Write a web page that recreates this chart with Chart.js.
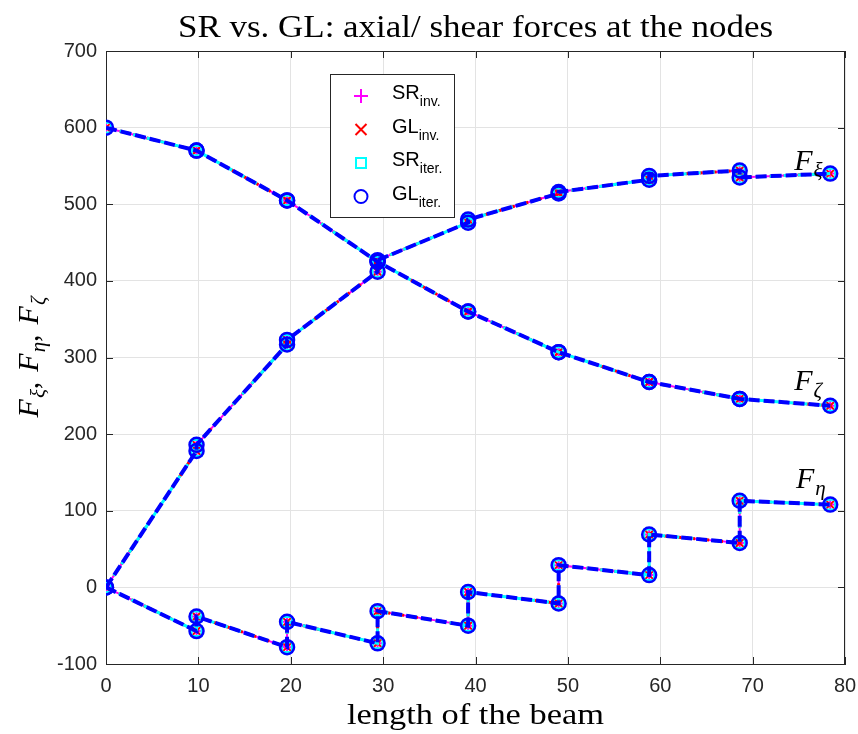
<!DOCTYPE html>
<html><head><meta charset="utf-8">
<script src="https://cdn.jsdelivr.net/npm/chart.js@4/dist/chart.umd.min.js"></script>
<style>html,body{margin:0;padding:0;background:#fff}#wrap{width:858px;height:734px;position:relative}</style>
</head><body><div id="wrap"><canvas id="c" width="858" height="734"></canvas></div>
<script>
// ---- data ----
const nodeX = [0, 9.8, 19.6, 29.4, 39.2, 49, 58.8, 68.6, 78.4];
// element i spans nodeX[i] -> nodeX[i+1]; start/end values of each element
const fXiStart   = [0, 186, 323, 427, 480, 516, 537, 535];
const fXiEnd     = [178, 317, 412, 476, 514, 532, 544, 540];
const fZetaStart = [600, 570, 505, 425, 360, 307, 268, 246];
const fZetaEnd   = [570, 505, 425, 360, 307, 268, 246, 237];
const fEtaStart  = [0, -38, -45, -31, -6, 29, 69, 113];
const fEtaEnd    = [-57, -78, -73, -50, -21, 16, 58, 108];
const seriesNames = ['SR', 'GL', 'SR', 'GL'];
const seriesSubs  = ['inv.', 'inv.', 'iter.', 'iter.'];
const xTickValues = [0, 10, 20, 30, 40, 50, 60, 70, 80];
const yTickValues = [-100, 0, 100, 200, 300, 400, 500, 600, 700];
const titleText = 'SR vs. GL: axial/ shear forces at the nodes';
const xTitleText = 'length of the beam';
const curveLabels = [
  {sub: 'ξ', x: 74.5, y: 545},
  {sub: 'ζ', x: 74.5, y: 258},
  {sub: 'η', x: 74.7, y: 130}
];

function curvePoints(starts, ends) {
  const pts = [];
  for (let i = 0; i < starts.length; i++) {
    pts.push({x: nodeX[i], y: starts[i]});
    pts.push({x: nodeX[i + 1], y: ends[i]});
  }
  return pts;
}
const allPoints = [
  ...curvePoints(fXiStart, fXiEnd), {x: nodeX[8], y: null},
  ...curvePoints(fZetaStart, fZetaEnd), {x: nodeX[8], y: null},
  ...curvePoints(fEtaStart, fEtaEnd)
];

const styles = [
  {color: '#ff00ff', width: 2, dash: [], pointStyle: 'cross', r: 6, pbw: 2, order: 4},
  {color: '#ff0000', width: 3, dash: [3, 4], pointStyle: 'crossRot', r: 6, pbw: 2, order: 3},
  {color: '#00ffff', width: 3, dash: [8, 6], pointStyle: 'rect', r: 7, pbw: 2, order: 2},
  {color: '#0000ff', width: 4, dash: [11, 4], pointStyle: 'circle', r: 7, pbw: 2.5, order: 1}
];

const datasets = styles.map((s, i) => ({
  label: seriesNames[i] + seriesSubs[i],
  data: allPoints,
  borderColor: s.color,
  borderWidth: s.width,
  borderDash: s.dash,
  pointStyle: s.pointStyle,
  pointRadius: s.r,
  pointBorderWidth: s.pbw,
  pointBorderColor: s.color,
  pointBackgroundColor: 'rgba(0,0,0,0)',
  fill: false,
  tension: 0,
  spanGaps: false,
  order: s.order
}));

const AX = '#262626';
const TICKFONT = {family: '"Liberation Sans", Arial, sans-serif', size: 20};
const SERIF = '"Liberation Serif", "Times New Roman", serif';

function drawRich(ctx, parts, x, y) {
  let cx = x;
  for (const p of parts) {
    ctx.font = p.font;
    ctx.fillText(p.t, cx, y + (p.dy || 0));
    cx += ctx.measureText(p.t).width + (p.gap || 0);
  }
  return cx - x;
}
function richWidth(ctx, parts) {
  let w = 0;
  for (const p of parts) { ctx.font = p.font; w += ctx.measureText(p.t).width + (p.gap || 0); }
  return w;
}
// draw text centred at cx, stretched horizontally to a target width (mimics the wider LaTeX font)
function fitText(ctx, text, font, cx, baseY, targetW) {
  ctx.font = font;
  const w = ctx.measureText(text).width;
  ctx.save();
  ctx.translate(cx, baseY);
  ctx.scale(targetW / w, 1);
  ctx.textAlign = 'center';
  ctx.fillText(text, 0, 0);
  ctx.restore();
}

const decor = {
  id: 'decor',
  beforeDatasetsDraw(chart) {
    const {ctx, chartArea: a, scales: {x, y}} = chart;
    ctx.save();
    ctx.strokeStyle = AX;
    ctx.lineWidth = 1;
    ctx.beginPath();
    ctx.moveTo(a.left, a.top + 0.5); ctx.lineTo(a.right, a.top + 0.5);
    ctx.moveTo(a.right - 0.5, a.top); ctx.lineTo(a.right - 0.5, a.bottom);
    const tl = 7;
    for (const v of xTickValues) {
      const px = Math.round(x.getPixelForValue(v)) + 0.5;
      ctx.moveTo(px, a.bottom); ctx.lineTo(px, a.bottom - tl);
      ctx.moveTo(px, a.top); ctx.lineTo(px, a.top + tl);
    }
    for (const v of yTickValues) {
      const py = Math.round(y.getPixelForValue(v)) + 0.5;
      ctx.moveTo(a.left, py); ctx.lineTo(a.left + tl, py);
      ctx.moveTo(a.right, py); ctx.lineTo(a.right - tl, py);
    }
    ctx.stroke();
    ctx.restore();
  },
  afterDraw(chart) {
    const {ctx, chartArea: a, scales: {x, y}} = chart;
    ctx.save();
    ctx.fillStyle = '#000';
    ctx.textBaseline = 'alphabetic';
    const midX = (a.left + a.right) / 2;
    fitText(ctx, titleText, '31px ' + SERIF, midX, 37, 595);
    fitText(ctx, xTitleText, '30px ' + SERIF, midX, 724, 257);
    ctx.textAlign = 'left';
    // y title (rotated)
    const FI = 'italic 30px ' + SERIF;
    const SI = 'italic 21px ' + SERIF;
    const RM = '30px ' + SERIF;
    const yParts = [
      {t: 'F', font: FI, gap: 1}, {t: 'ξ', font: SI, dy: 7}, {t: ',', font: RM, gap: 10},
      {t: 'F', font: FI, gap: 1}, {t: 'η', font: SI, dy: 7}, {t: ',', font: RM, gap: 10},
      {t: 'F', font: FI, gap: 1}, {t: 'ζ', font: SI, dy: 7}
    ];
    const yw = richWidth(ctx, yParts);
    ctx.save();
    ctx.translate(38, 357);
    ctx.rotate(-Math.PI / 2);
    drawRich(ctx, yParts, -yw / 2, 0);
    ctx.restore();
    // curve labels
    for (const c of curveLabels) {
      drawRich(ctx, [{t: 'F', font: FI, gap: 1}, {t: c.sub, font: SI, dy: 7}],
        x.getPixelForValue(c.x), y.getPixelForValue(c.y));
    }
    // legend box
    const lx = 330.5, ly = 74.5, lw = 124, lh = 143;
    ctx.fillStyle = '#fff';
    ctx.fillRect(lx, ly, lw, lh);
    ctx.strokeStyle = AX;
    ctx.lineWidth = 1;
    ctx.strokeRect(lx, ly, lw, lh);
    const rows = [96, 129.5, 163, 196.5];
    const mx = 361;
    styles.forEach((s, i) => {
      const yy = rows[i];
      ctx.strokeStyle = s.color;
      ctx.lineWidth = 2;
      ctx.beginPath();
      if (s.pointStyle === 'cross') {
        ctx.moveTo(mx - 7, yy); ctx.lineTo(mx + 7, yy);
        ctx.moveTo(mx, yy - 7); ctx.lineTo(mx, yy + 7);
      } else if (s.pointStyle === 'crossRot') {
        ctx.moveTo(mx - 5.5, yy - 5.5); ctx.lineTo(mx + 5.5, yy + 5.5);
        ctx.moveTo(mx - 5.5, yy + 5.5); ctx.lineTo(mx + 5.5, yy - 5.5);
      } else if (s.pointStyle === 'rect') {
        ctx.rect(mx - 5, yy - 5, 10, 10);
      } else {
        ctx.arc(mx, yy, 6.5, 0, Math.PI * 2);
      }
      ctx.stroke();
      ctx.fillStyle = '#000';
      drawRich(ctx, [
        {t: seriesNames[i], font: '20px "Liberation Sans", Arial, sans-serif'},
        {t: seriesSubs[i], font: '14px "Liberation Sans", Arial, sans-serif', dy: 7}
      ], 392, yy + 3);
    });
    ctx.restore();
  }
};

new Chart(document.getElementById('c'), {
  type: 'line',
  data: {datasets},
  options: {
    responsive: false,
    animation: false,
    events: [],
    layout: {padding: {top: 51, right: 13, left: 0, bottom: 0}},
    plugins: {legend: {display: false}, tooltip: {enabled: false}, title: {display: false}},
    scales: {
      x: {
        type: 'linear', min: 0, max: 80,
        afterFit(s) { s.height = 70; s.paddingLeft = 0; s.paddingRight = 0; },
        afterBuildTicks(s) { s.ticks = xTickValues.map(v => ({value: v})); },
        ticks: {color: AX, font: TICKFONT, padding: 10, maxRotation: 0, autoSkip: false},
        grid: {color: '#e3e3e3', lineWidth: 1, drawTicks: false},
        border: {display: true, color: AX, width: 1}
      },
      y: {
        type: 'linear', min: -100, max: 700,
        afterFit(s) { s.width = 106; s.paddingTop = 0; s.paddingBottom = 0; },
        afterBuildTicks(s) { s.ticks = yTickValues.map(v => ({value: v})); },
        ticks: {color: AX, font: TICKFONT, padding: 9},
        grid: {color: '#e3e3e3', lineWidth: 1, drawTicks: false},
        border: {display: true, color: AX, width: 1}
      }
    }
  },
  plugins: [decor]
});
</script></body></html>
